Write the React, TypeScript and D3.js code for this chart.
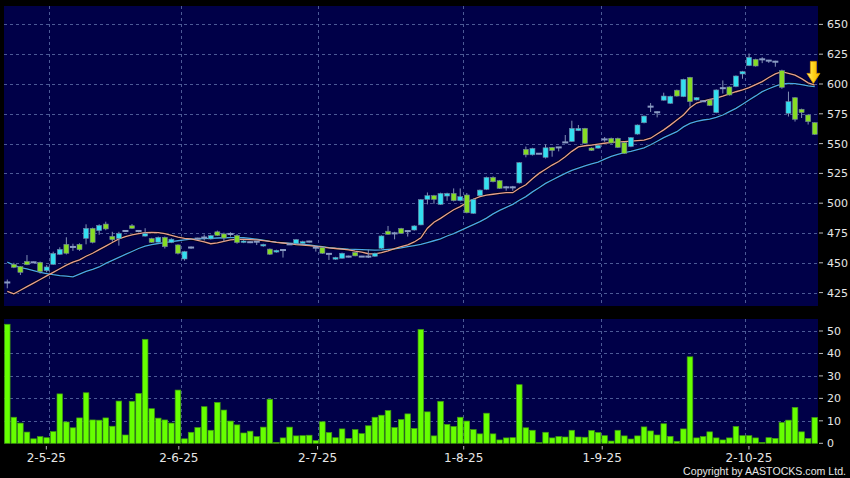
import React, { useLayoutEffect } from "react";
import * as d3 from "d3";

// ---------- DATA ----------
const opens = [433.5,448.7,446.8,451.2,450.4,450.4,443.4,448.7,457.1,465.5,463.3,465.5,470.5,478.9,477,482.5,472.2,470.5,476.7,481.1,476.7,472.4,470.3,467.3,471.4,467,465,453.2,462.8,470.3,471.2,470,476,474.2,474.2,473,467.2,467.3,467.7,464.1,461.5,459,460.7,465.5,466,466.2,467.8,462.7,462.7,457.5,453,453.8,455.2,458.7,455.2,455.2,455.5,462.2,476.5,474.7,478.8,476.6,477.5,481.8,503.2,506.3,499,506,508.2,502.1,506.9,491.5,506.3,511.6,521.7,518.9,513.3,513.3,517,545.2,540.6,541.5,538.5,546.8,546.8,551,551.8,560.8,562.8,546.3,546.2,553.5,554.4,554.4,550.8,547.6,558,567.5,581,576.3,586.4,583.8,594.8,589.4,605.6,586.6,585.5,586.6,576,596.5,597.5,597.8,608.4,615.4,620.7,620.7,619.6,618.7,611.2,575.4,588.5,578.8,574,567.6];
const highs = [436,450,447.3,456.5,451,451,448,459.3,463,471.4,466,466.3,482.3,479.5,482.3,484.5,476,476,477.5,482.5,477.3,479,471,472,472,470.5,465.5,460,463.7,471,473.7,473.5,477,475.3,475.6,474,469,468,468.3,466,462,461,461,466,470,468.5,468.5,463.5,463.2,458,455,458.5,456,459,455.8,461,458.5,473,480.9,476,479.3,477,481.5,503.5,509,507,508.8,508.8,512.4,512.4,508.5,504,511.5,522.3,522.5,519.5,514.5,514.5,534.5,547.5,546.5,542,549.5,547.2,547.2,557.2,569.2,565.6,563.2,546.8,549,555.5,555,555,551.3,555.5,566,573.5,584,577,592.7,590.2,595.3,604.4,606,589,586,587,595.5,603,598,607.2,611,625.6,621.2,622.5,620.2,619.5,612,593.6,589,579.3,574.5,568];
const lows = [428.6,445.5,439.8,448,449.8,441,442,448.2,456.5,457,460,460,465.5,466.3,473.5,477.3,467.7,464.4,476,478.4,475.5,472,466.6,467,462,466.5,457,451.8,461.8,469.5,468.7,469.5,472.5,467.8,472,466,466.5,466.5,464.9,463.5,456.5,458.5,454.4,465,465.5,466,467,459.4,457.5,452.4,452.5,453.5,454.5,455.5,454.8,454,455,461.5,473.5,469.7,474.2,472,477,481.5,499,499.5,498.5,502,501.5,501.5,491.5,491,506,511,517.5,512,510.5,510.5,516.5,538.5,540,541,537.5,539,543.5,550.5,551.5,560.5,549.8,543.8,545.8,551.5,550,546.3,541.3,547,557.5,567,576.5,572,586,583.3,589.4,589,581,586.2,585,581.5,575.5,592,590.3,597.3,604.4,615,614.6,617.5,617.7,614.5,596,572.7,568.5,571.5,566,557.3];
const closes = [433.5,446.2,442,448.4,450.4,442.6,446.5,457.9,461.3,458,463.3,461,478.9,467.2,481.4,478.4,469.4,474.7,476.7,478.9,476.7,474.5,467.2,471.4,463.5,469.8,458,459.4,462.8,470.3,471.2,472.8,473,470.8,474.2,467,468.3,467.3,467.7,465.5,457.2,460.5,460.7,465.5,469.5,467.8,467.8,462.7,458,457.5,454.5,458,455.2,455.8,455.2,455.2,458,472.5,473.9,474.7,474.7,476.6,480.9,503,506.3,503.2,508.2,508.2,502.1,505.5,492,503.2,511,521.7,518,512.5,513.3,513.3,534,540.6,546,541.5,546.5,544.2,546.8,551,562.8,562.8,550.3,544.3,548.5,553.5,550.5,546.8,541.8,555,565.6,573.1,581,576.3,589.9,589.7,589.9,603.9,585.2,588.6,585.5,582,595,596.5,590.8,606.7,610.4,622.4,615.1,620.7,619.6,618.7,597.2,585.2,570.4,576,568.4,557.8];
const maShort = [426,424,427,430,433,436,439,442,445,448,450.5,452.5,455.5,458,461,464,467,470,472,473.5,474.5,475.3,475.5,475.3,474.5,473,471.5,470.5,470,468.8,467.5,466,466.8,468,469.2,469.7,469.6,469.4,469.2,468.6,468,467.2,466.6,466,465.3,464.8,464.4,463.8,463.2,462.5,462,461.5,460.8,459.8,459,457.6,457.5,458.5,460,461.8,463.5,465,467.5,471,479,484,487.3,491,494.5,497.1,500.5,503.3,505.5,506.8,507.5,508.3,508.8,508.8,512.5,515.5,520.5,525,528.5,532,535,539,543.5,547.2,548.2,548.8,549.5,550.3,551,551.4,551.7,552,552.5,553,554.5,558,561.5,565.5,569.8,574,580,584,585.7,587,588.2,589.9,591.8,593.5,595,597,599.5,602,605.5,608.5,610.3,609,607.5,604.5,601,599];
const maLong = [450.5,448,446,445,443.5,442,441,440,439.3,438.8,438.2,440.5,442.8,444.5,446.5,449.5,452,454.5,457,459.5,462,464,465.3,466.2,467,467.7,468.5,469.2,469.8,470,470.3,470.5,470.8,471,471.2,471.2,471,470.5,469.8,469,468,467.3,466.8,466.4,466,465.5,465,464.2,463.5,462.8,462.2,461.8,461.4,461.2,461,460.8,460.7,460.8,461.2,461.7,462.5,463.5,464.5,465.5,467,468.5,470,472.5,474.5,477,479.5,482,484.5,487.5,491,494,496.5,499,502.5,505.5,509.5,513,516.6,519.5,522.3,525,527.5,529.5,531.3,533,534.5,537,539.2,541,542.4,543.5,545,546.5,549,552,555,557.5,560,564,567,568.6,569.8,570.5,572,574,576.8,579.6,583,586.6,590,593.6,596,598.3,600,600.4,600.3,599.5,598.5,597.8];
const volumes = [53,11.6,9,5,2,3,2.5,5.2,22,9.5,6.9,11.3,22.5,10.4,10.3,11.3,7.6,18.8,3.7,18.7,22.2,46.3,15.4,11.2,10.4,9,23.7,2,4.9,7,16.3,5.8,18.2,14.8,9.9,8.2,4.6,5.4,3,7.2,19.6,0.4,2.4,7.2,3.3,3.4,3.6,1.2,9.6,4.8,2.5,6.4,2.2,6.1,4.3,7.8,11.6,12.5,14.6,7,10.6,13.1,6.6,50.7,14,3.3,18.7,8.4,7.5,11.6,9.9,6.1,4.2,13.4,4.2,1.5,2.4,2.5,26.1,6.9,5.8,0.3,4.9,2.4,3,2.8,5.8,2.8,2.7,5.7,4.8,3.4,1,5.8,3.3,1.9,3.3,7.3,5.5,3.7,8.7,3.1,0.9,6.4,38.5,2.4,3,5.1,2.4,1.5,2.4,7.5,3.4,3.4,2.4,0.4,2.5,2.2,9.3,10.3,16,5.1,2.2,11.5];
const priceTicks = [425,450,475,500,525,550,575,600,625,650];
const volumeTicks = [0,10,20,30,40,50];
const dateLabels = ["2-5-25","2-6-25","2-7-25","1-8-25","1-9-25","2-10-25"];
const dateGridIndex = [6,26,47,69,90,112];
const dateLabelIndex = [5.95,26.13,47.27,69.53,90.63,112.98];
const signalIndex = 122.8;
const signalPrice = 600.5;

// ---------- LAYOUT ----------
const W = 850, H = 478;
const L = 4, R = 818;
const mainTop = 6, mainBottom = 306;
const volTop = 319, volBottom = 443.3;
const N = closes.length;

const BG = "#000048";
const GRID = "#4c5a96";
const TXT = "#e6e6e6";
const UP = "#33dff0";
const DOWN = "#86dc24";
const DOJI = "#8a9cc4";
const WICK = "#8190b4";

export default function App() {
  useLayoutEffect(() => {
    document.body.style.margin = "0";
    document.body.style.background = "#000";
  }, []);

  const x = d3.scaleLinear().domain([-0.5, N - 0.5]).range([L, R]);
  const yP = d3.scaleLinear().domain([425, 650]).range([292.6, 24.4]);
  const yV = d3.scaleLinear().domain([0, 50]).range([volBottom, 331]);
  const idx = d3.range(N);

  const lineGen = (arr: number[]) =>
    d3.line<number>().x((_, i) => x(i)).y((v) => yP(v)).curve(d3.curveLinear)(arr) || "";

  const bodyW = 5;
  const volW = 5.6;

  const axX = x(signalIndex);
  const tipY = yP(signalPrice);

  return (
    <svg width={W} height={H} style={{ display: "block" }} xmlns="http://www.w3.org/2000/svg">
      <defs>
        <linearGradient id="arrowGrad" x1="0" x2="1" y1="0" y2="0">
          <stop offset="0" stopColor="#fff27a" />
          <stop offset="0.5" stopColor="#ffd21a" />
          <stop offset="1" stopColor="#f5b400" />
        </linearGradient>
      </defs>
      <rect x={0} y={0} width={W} height={H} fill="#000" />
      <rect x={L} y={mainTop} width={R - L} height={mainBottom - mainTop} fill={BG} />
      <rect x={L} y={volTop} width={R - L} height={volBottom - volTop} fill={BG} />

      {/* price grid */}
      {priceTicks.map((t) => (
        <line key={"pg" + t} x1={L} x2={R} y1={Math.round(yP(t)) + 0.5} y2={Math.round(yP(t)) + 0.5}
          stroke={GRID} strokeWidth={1} strokeDasharray="3,3" />
      ))}
      {dateGridIndex.map((gi, k) => (
        <line key={"vg" + k} x1={Math.round(x(gi) + 2.6) + 0.5} x2={Math.round(x(gi) + 2.6) + 0.5}
          y1={mainTop} y2={mainBottom} stroke={GRID} strokeWidth={1} strokeDasharray="3,3" />
      ))}
      {/* volume grid */}
      {volumeTicks.filter((t) => t > 0).map((t) => (
        <line key={"vgh" + t} x1={L} x2={R} y1={Math.round(yV(t)) + 0.5} y2={Math.round(yV(t)) + 0.5}
          stroke={GRID} strokeWidth={1} strokeDasharray="3,3" />
      ))}
      {dateGridIndex.map((gi, k) => (
        <line key={"vgv" + k} x1={Math.round(x(gi) + 2.6) + 0.5} x2={Math.round(x(gi) + 2.6) + 0.5}
          y1={volTop} y2={volBottom} stroke={GRID} strokeWidth={1} strokeDasharray="3,3" />
      ))}

      {/* moving averages */}
      <path d={lineGen(maLong)} fill="none" stroke="#000" strokeOpacity={0.55} strokeWidth={3} />
      <path d={lineGen(maShort)} fill="none" stroke="#000" strokeOpacity={0.55} strokeWidth={3} />
      <path d={lineGen(maLong)} fill="none" stroke="#4aa6e8" strokeWidth={1.3} />
      <path d={lineGen(maShort)} fill="none" stroke="#e8a08a" strokeWidth={1.3} />

      {/* wicks */}
      {idx.map((i) => (
        <line key={"w" + i} x1={x(i)} x2={x(i)} y1={yP(highs[i])} y2={yP(lows[i])} stroke={WICK} strokeWidth={1} />
      ))}
      {/* bodies */}
      {idx.map((i) => {
        const o = opens[i], c = closes[i];
        if (o === c) {
          return <rect key={"b" + i} x={x(i) - bodyW / 2 - 0.5} y={yP(o) - 1} width={bodyW + 1} height={2} fill={DOJI} />;
        }
        const top = yP(Math.max(o, c));
        const bot = yP(Math.min(o, c));
        return (
          <rect key={"b" + i} x={x(i) - bodyW / 2} y={top} width={bodyW} height={Math.max(1.5, bot - top)}
            fill={c > o ? UP : DOWN} stroke="#6d7fa0" strokeWidth={0.6} />
        );
      })}

      {/* signal arrow */}
      <path
        d={`M${axX - 3},${tipY - 22} L${axX + 3},${tipY - 22} L${axX + 3},${tipY - 10} L${axX + 6.5},${tipY - 10} L${axX},${tipY} L${axX - 6.5},${tipY - 10} L${axX - 3},${tipY - 10} Z`}
        fill="url(#arrowGrad)" stroke="#e09a00" strokeWidth={0.8} />

      {/* volume bars */}
      {idx.map((i) => (
        <rect key={"v" + i} x={x(i) - volW / 2} y={yV(volumes[i])} width={volW}
          height={Math.max(0.5, volBottom - yV(volumes[i]))} fill="#66ff00" stroke="#3f9a10" strokeWidth={0.7} />
      ))}

      {/* right axis - price */}
      {priceTicks.map((t) => (
        <g key={"pt" + t}>
          <line x1={819} x2={823} y1={yP(t)} y2={yP(t)} stroke="#bbb" strokeWidth={1} />
          <text x={827} y={yP(t)} dy="0.36em" fill={TXT} fontSize={11} fontFamily="DejaVu Sans, sans-serif">{t}</text>
        </g>
      ))}
      {/* right axis - volume */}
      {volumeTicks.map((t) => (
        <g key={"vt" + t}>
          <line x1={819} x2={823} y1={yV(t)} y2={yV(t)} stroke="#bbb" strokeWidth={1} />
          <text x={827} y={yV(t)} dy="0.36em" fill={TXT} fontSize={11} fontFamily="DejaVu Sans, sans-serif">{t}</text>
        </g>
      ))}

      {/* date axis */}
      {dateLabels.map((lab, k) => {
        const px = x(dateLabelIndex[k]);
        return (
          <g key={"d" + k}>
            <line x1={px} x2={px} y1={446} y2={449.5} stroke="#bbb" strokeWidth={1} />
            <text x={px} y={458} dy="0.36em" textAnchor="middle" fill={TXT} fontSize={12}
              fontFamily="DejaVu Sans, sans-serif">{lab}</text>
          </g>
        );
      })}

      <text x={846} y={471.5} dy="0.36em" textAnchor="end" fill={TXT} fontSize={10.6}
        fontFamily="Liberation Sans, Arial, sans-serif">Copyright by AASTOCKS.com Ltd.</text>
    </svg>
  );
}
